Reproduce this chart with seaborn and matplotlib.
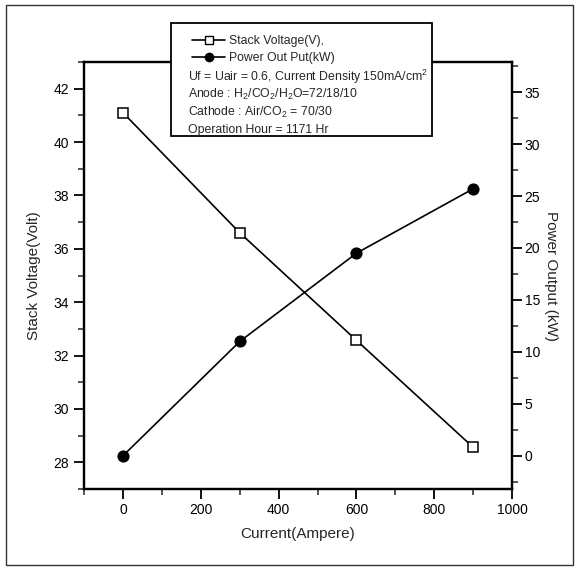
import numpy as np
import pandas as pd
import seaborn as sns
import matplotlib.pyplot as plt
from matplotlib.lines import Line2D
from matplotlib.patches import Rectangle
from matplotlib.ticker import MultipleLocator

# values
current = [0, 300, 600, 900]
voltage = [41.1, 36.6, 32.57, 28.56]
power = [0.0, 11.0, 19.5, 25.7]

df = pd.DataFrame({'current': current, 'voltage': voltage, 'power': power})

sns.set_style('ticks')
plt.rcParams['font.family'] = ['Liberation Sans', 'DejaVu Sans']
plt.rcParams['mathtext.default'] = 'regular'

fig = plt.figure(figsize=(5.8, 5.67), dpi=100)
ax = fig.add_axes([0.145, 0.1376, 0.738, 0.753])
ax2 = ax.twinx()

sns.lineplot(data=df, x='current', y='voltage', ax=ax, color='black', linewidth=1.2,
             marker='s', markersize=7, markerfacecolor='white', markeredgecolor='black',
             markeredgewidth=1.1)
sns.lineplot(data=df, x='current', y='power', ax=ax2, color='black', linewidth=1.2,
             marker='o', markersize=8, markerfacecolor='black', markeredgecolor='black')

ax.set_xlim(-100, 1000)
ax.set_ylim(27, 43)
ax2.set_ylim(-3.2, 37.9)

ax.xaxis.set_major_locator(MultipleLocator(200))
ax.xaxis.set_minor_locator(MultipleLocator(100))
ax.yaxis.set_major_locator(MultipleLocator(2))
ax.yaxis.set_minor_locator(MultipleLocator(1))
ax2.yaxis.set_major_locator(MultipleLocator(5))
ax2.yaxis.set_minor_locator(MultipleLocator(2.5))

for a in (ax, ax2):
    for s in a.spines.values():
        s.set_linewidth(1.6)
        s.set_color('black')
    a.tick_params(which='major', direction='out', length=7, width=1.3, labelsize=10, colors='black')
    a.tick_params(which='minor', direction='out', length=4, width=1.1)
ax.tick_params(axis='x', pad=3)
ax.tick_params(axis='y', pad=4)
ax2.tick_params(axis='y', pad=2)

ax.set_xlabel('Current(Ampere)', fontsize=11, labelpad=7)
ax.set_ylabel('Stack Voltage(Volt)', fontsize=11, labelpad=9)
ax2.set_ylabel('Power Output (kW)', fontsize=11, rotation=-90, labelpad=13)
ax.grid(False)
ax2.grid(False)

# legend / annotation box
W, H = 580, 567
def fx(px):
    return px / W
def fy(py):
    return 1 - py / H

box = Rectangle((fx(171), fy(136)), fx(432) - fx(171), fy(23) - fy(136),
                transform=fig.transFigure, facecolor='white', edgecolor='black',
                linewidth=1.3, zorder=10)
fig.patches.append(box)

handles = [
    Line2D([], [], color='black', linewidth=1.2, marker='s', markersize=6,
           markerfacecolor='white', markeredgecolor='black'),
    Line2D([], [], color='black', linewidth=1.2, marker='o', markersize=6,
           markerfacecolor='black'),
]
leg = fig.legend(handles, ['Stack Voltage(V),', 'Power Out Put(kW)'],
                 loc='upper left', bbox_to_anchor=(fx(192), fy(35)), frameon=False,
                 fontsize=8.8, handlelength=2.7, handletextpad=0.3, labelspacing=0.45,
                 borderpad=0, borderaxespad=0)
leg.set_zorder(11)

lines = [
    'Uf = Uair = 0.6, Current Density 150mA/cm$^2$',
    'Anode : H$_2$/CO$_2$/H$_2$O=72/18/10',
    'Cathode : Air/CO$_2$ = 70/30',
    'Operation Hour = 1171 Hr',
]
for i, t in enumerate(lines):
    fig.text(fx(188), fy(77 + i * 17.5), t, fontsize=8.8, va='center', ha='left', zorder=12)

# scanned page border
frame = Rectangle((fx(6), fy(565)), fx(573) - fx(6), fy(5) - fy(565),
                  transform=fig.transFigure, facecolor='none', edgecolor='#333333',
                  linewidth=1.0, zorder=0)
fig.patches.append(frame)

fig.savefig('out.png', dpi=100)
